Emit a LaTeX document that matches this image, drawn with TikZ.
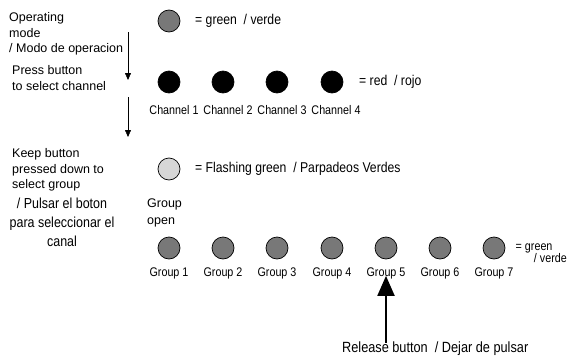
\documentclass[tikz,border=0pt]{standalone}
\usepackage{fontspec}
\setmainfont{Liberation Sans}
\newfontfamily\narrowfont{Liberation Sans}[FakeStretch=0.86]
\usetikzlibrary{arrows.meta}
\definecolor{lampgray}{RGB}{120,120,120}
\definecolor{flashgray}{RGB}{215,215,215}
\tikzset{
  lamp/.style={circle,draw=black,line width=0.7pt,minimum size=22pt,inner sep=0pt},
  greenlamp/.style={lamp,fill=lampgray},
  redlamp/.style={lamp,fill=black},
  flashlamp/.style={lamp,fill=flashgray},
  stepnote/.style={anchor=west,align=left,inner sep=0pt,font=\fontsize{12.5}{15.5}\selectfont},
  tag/.style={inner sep=1pt,font=\narrowfont\fontsize{12.5}{14}\selectfont},
  legend/.style={anchor=west,inner sep=0pt,font=\narrowfont\fontsize{14.2}{16}\selectfont}
}
\begin{document}
\begin{tikzpicture}[x=1pt,y=-1pt]
\useasboundingbox (0,0) rectangle (567,356);
\node[stepnote] (opmode) at (9,34){Operating\\mode\\/ Modo de operacion};
\node[stepnote] (press) at (12,78){Press button\\to select channel};
\node[stepnote] (keep) at (12,170){Keep button\\pressed down to\\select group};
\node[align=center,inner sep=0pt,font=\narrowfont\fontsize{14.5}{19}\selectfont] (pulsar) at (62,222){/ Pulsar el boton\\para seleccionar el\\canal};
\coordinate (a1s) at (128,32);
\coordinate (a1e) at (128,80);
\coordinate (a2s) at (128,97);
\coordinate (a2e) at (128,137);
\draw[-{Triangle[length=7pt,width=6pt]}] (a1s)--(a1e);
\draw[-{Triangle[length=7pt,width=6pt]}] (a2s)--(a2e);
\node[greenlamp] (mode) at (169,21){};
\node[legend] (modetxt) at (195,21){= green \ / verde};
\node[redlamp] (c1) at (169,82){};
\node[redlamp] (c2) at (223,82){};
\node[redlamp] (c3) at (277,82){};
\node[redlamp] (c4) at (332,82){};
\node[legend] (redtxt) at (359,82){= red \ / rojo};
\node[tag] (c1l) at (174,110){Channel 1};
\node[tag] (c2l) at (228,110){Channel 2};
\node[tag] (c3l) at (282,110){Channel 3};
\node[tag] (c4l) at (336,110){Channel 4};
\node[flashlamp] (open) at (169,169){};
\node[legend] (flashtxt) at (195,169){= Flashing green \ / Parpadeos Verdes};
\node[stepnote,font=\fontsize{12.5}{17}\selectfont] (openl) at (147,213){Group\\open};
\node[greenlamp] (g1) at (169,248){};
\node[greenlamp] (g2) at (223,248){};
\node[greenlamp] (g3) at (277,248){};
\node[greenlamp] (g4) at (332,248){};
\node[greenlamp] (g5) at (386,248){};
\node[greenlamp] (g6) at (440,248){};
\node[greenlamp] (g7) at (494,248){};
\node[tag] (g1l) at (169,273){Group 1};
\node[tag] (g2l) at (223,273){Group 2};
\node[tag] (g3l) at (277,273){Group 3};
\node[tag] (g4l) at (332,273){Group 4};
\node[tag] (g5l) at (386,273){Group 5};
\node[tag] (g6l) at (440,273){Group 6};
\node[tag] (g7l) at (494,273){Group 7};
\node[anchor=east,align=right,inner sep=0pt,font=\narrowfont\fontsize{12.5}{9.5}\selectfont] (greentxt) at (567,252){= green \phantom{/ v}\\/ verde};
\node[legend,font=\narrowfont\fontsize{14.8}{16}\selectfont] (release) at (342,349){Release button \ / Dejar de pulsar};
\draw[line width=2pt,-{Triangle[length=20pt,width=17pt]}] ([yshift=-1pt]release.north -| g5)--([yshift=4pt]g5l.south);
\end{tikzpicture}
\end{document}
